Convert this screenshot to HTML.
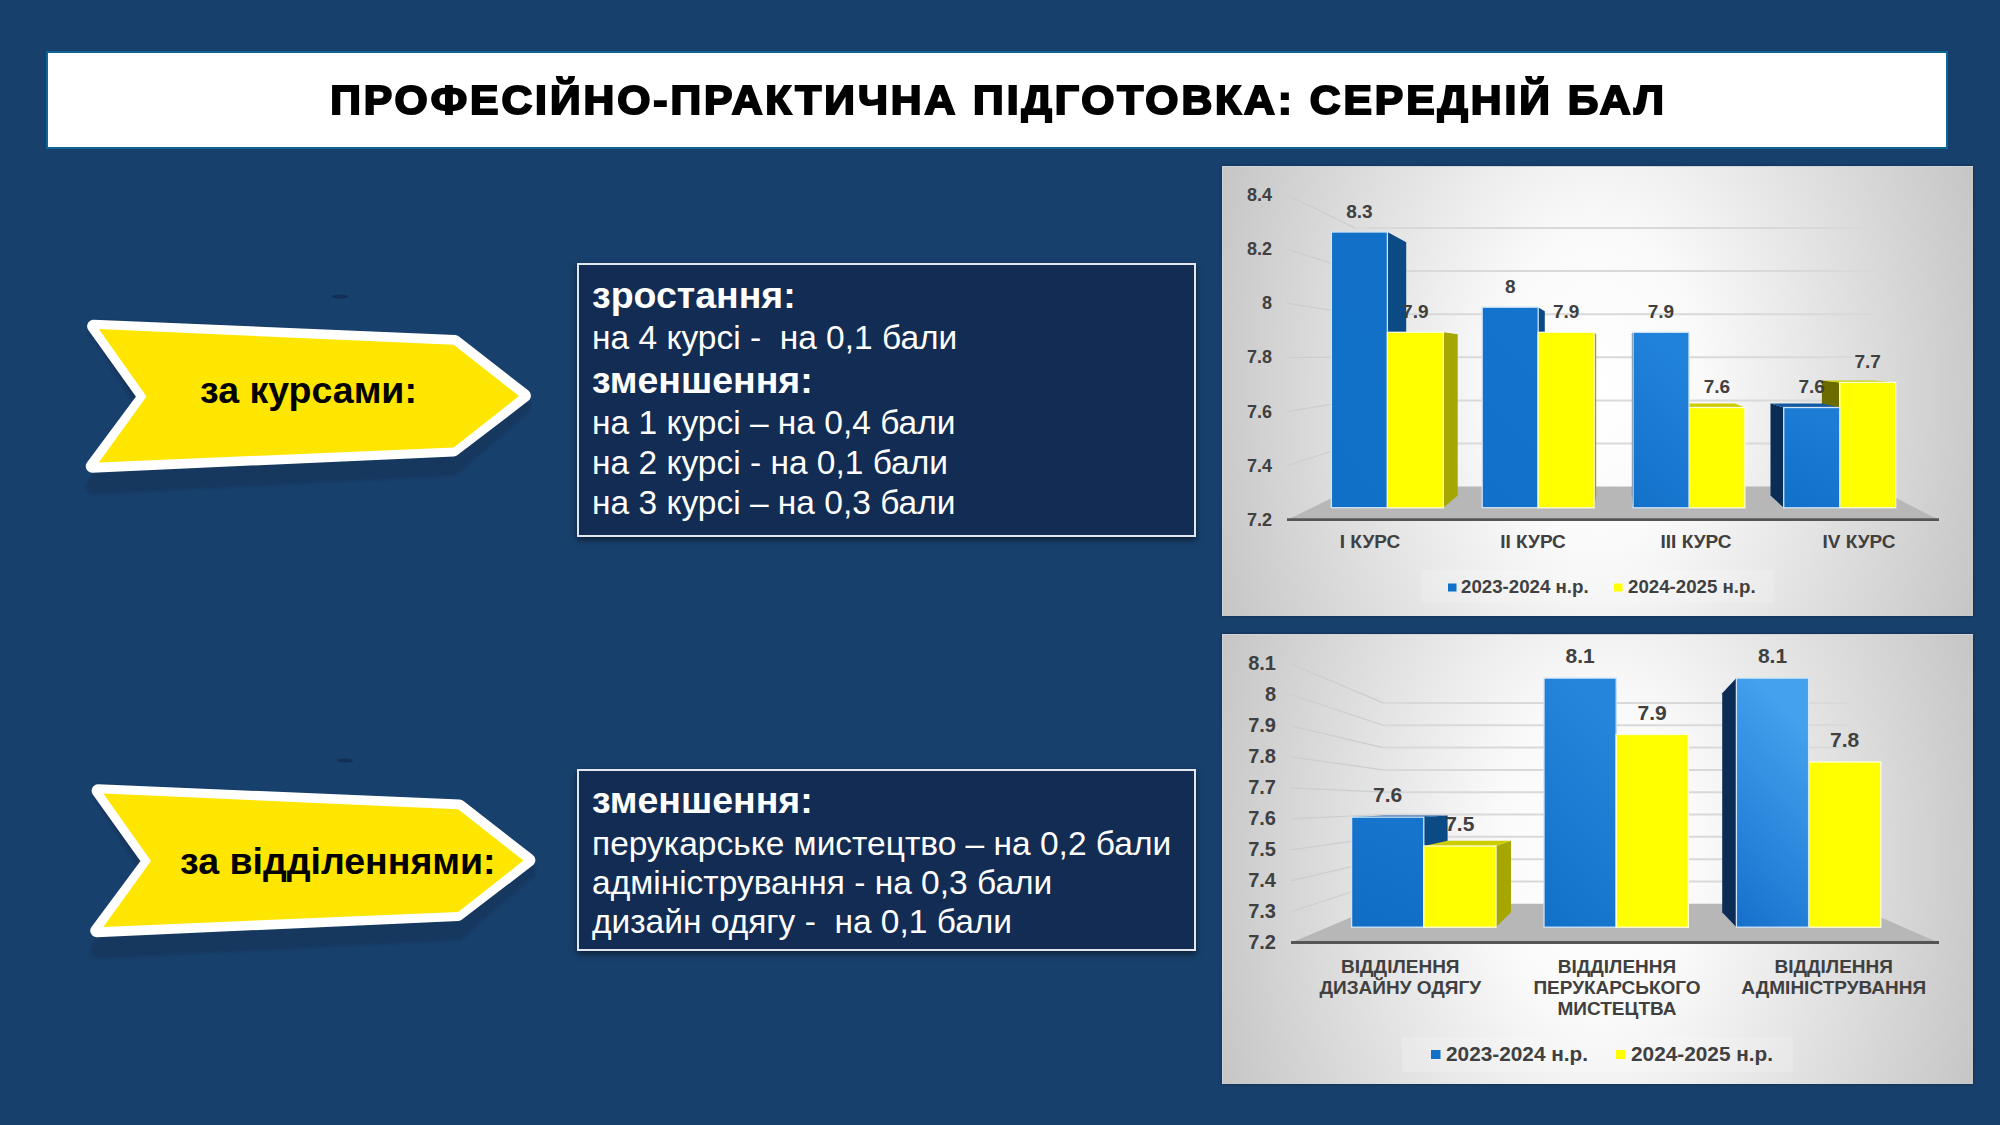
<!DOCTYPE html>
<html><head><meta charset="utf-8"><style>
html,body{margin:0;padding:0}
body{width:2000px;height:1125px;overflow:hidden;background:#18406c;position:relative;font-family:"Liberation Sans",sans-serif}
.title{position:absolute;left:46px;top:51px;width:1898px;height:94px;background:#fff;border:2px solid #0f6596;}
.title span{position:absolute;left:3px;right:0;top:23px;text-align:center;font-weight:bold;font-size:41px;color:#000;letter-spacing:2.82px;-webkit-text-stroke:2px #000;transform:scaleX(1.04);transform-origin:50% 50%;line-height:48px;white-space:nowrap}
.box{position:absolute;left:577px;width:615px;background:#132c53;border:2px solid #e2e7ef;box-shadow:0px 3px 6px rgba(0,0,0,0.5);color:#fff}
.box div{position:absolute;left:13px;white-space:pre;line-height:40px}
.b{font-weight:bold;font-size:37.5px}
.r{font-size:33.5px}
.chartbg{position:absolute;left:1222px;width:751px;background:radial-gradient(ellipse 55% 140% at 50% 50%,#ffffff 0%,#fafafa 25%,#c4c4c4 100%);box-shadow:inset 1px 1px 0 #cdd4de, 0 0 3px rgba(0,0,0,0.35)}
svg text.dl{font-weight:bold;fill:#404040;text-anchor:middle;dominant-baseline:central}
svg text.yl{font-weight:bold;fill:#404040;text-anchor:end;dominant-baseline:central}
svg text.cl{font-weight:bold;fill:#404040;text-anchor:middle;dominant-baseline:central}
svg text.lg{font-weight:bold;fill:#404040;dominant-baseline:central}
.arrowtxt{position:absolute;font-weight:bold;font-size:37.5px;color:#000;white-space:nowrap}
</style></head><body>
<div class="title"><span>ПРОФЕСІЙНО-ПРАКТИЧНА ПІДГОТОВКА: СЕРЕДНІЙ БАЛ</span></div>

<svg style="position:absolute;left:0;top:0" width="2000" height="1125" viewBox="0 0 2000 1125">
<defs>
<filter id="blur1" x="-10%" y="-10%" width="120%" height="140%"><feGaussianBlur stdDeviation="0.8"/></filter>
</defs>
<!-- arrow 1 -->
<polygon points="94.5,327.3 454.4,344.7 523.7,406.4 452.9,468.2 93.1,486.8 144.9,407.4" fill="#15375f" stroke="#15375f" stroke-width="15.0" stroke-linejoin="round" filter="url(#blur1)"/>
<polygon points="93.6,326.2 455.0,341.5 524.4,395.7 453.6,449.9 92.2,466.3 144.0,396.6" fill="#ffffff" stroke="#ffffff" stroke-width="13.0" stroke-linejoin="round"/>
<polygon points="98.8,329.0 453.7,344.8 519.0,396.1 453.7,447.5 98.8,462.4 146.5,396.5" fill="#ffe600"/>
<ellipse cx="340" cy="296.5" rx="8" ry="2" fill="#142f55"/>
<!-- arrow 2 -->
<polygon points="99.0,791.8 458.9,809.2 528.2,870.9 457.4,932.7 97.6,951.3 149.4,871.9" fill="#15375f" stroke="#15375f" stroke-width="15.0" stroke-linejoin="round" filter="url(#blur1)"/>
<polygon points="98.1,790.7 459.5,806.0 528.9,860.2 458.1,914.4 96.7,930.8 148.5,861.1" fill="#ffffff" stroke="#ffffff" stroke-width="13.0" stroke-linejoin="round"/>
<polygon points="103.3,793.5 458.2,809.3 523.5,860.6 458.2,912.0 103.3,926.9 151.0,861.0" fill="#ffe600"/>
<ellipse cx="345" cy="760.5" rx="8" ry="2" fill="#142f55"/>
</svg>
<div class="arrowtxt" style="left:200px;top:369px">за курсами:</div>
<div class="arrowtxt" style="left:180px;top:840px">за відділеннями:</div>

<div class="box" style="top:263px;height:270px">
<div class="b" style="top:10px">зростання:</div>
<div class="r" style="top:52.5px">на 4 курсі -  на 0,1 бали</div>
<div class="b" style="top:94.5px">зменшення:</div>
<div class="r" style="top:138px">на 1 курсі – на 0,4 бали</div>
<div class="r" style="top:178px">на 2 курсі - на 0,1 бали</div>
<div class="r" style="top:217.5px">на 3 курсі – на 0,3 бали</div>
</div>
<div class="box" style="top:768.5px;height:178.5px">
<div class="b" style="top:9.5px">зменшення:</div>
<div class="r" style="top:53px">перукарське мистецтво – на 0,2 бали</div>
<div class="r" style="top:92px">адміністрування - на 0,3 бали</div>
<div class="r" style="top:131px">дизайн одягу -  на 0,1 бали</div>
</div>

<div class="chartbg" style="top:166px;height:450px"></div>
<div class="chartbg" style="top:634px;height:450px"></div>
<svg style="position:absolute;left:0;top:0" width="2000" height="1125" viewBox="0 0 2000 1125">
<defs>
<linearGradient id="gb" x1="0" y1="0" x2="0" y2="1"><stop offset="0" stop-color="#1a78d0"/><stop offset="1" stop-color="#106cc4"/></linearGradient>
</defs>
<linearGradient id="g1_2" x1="0.3" y1="0" x2="0" y2="1"><stop offset="0" stop-color="#2182dc"/><stop offset="1" stop-color="#1371c9"/></linearGradient>
<linearGradient id="g1_1" x1="0.3" y1="0" x2="0" y2="1"><stop offset="0" stop-color="#1474cd"/><stop offset="1" stop-color="#1170c9"/></linearGradient>
<linearGradient id="g1_3" x1="0.3" y1="0" x2="0" y2="1"><stop offset="0" stop-color="#1c7cd6"/><stop offset="1" stop-color="#1170c8"/></linearGradient>
<linearGradient id="g1_0" x1="0.3" y1="0" x2="0" y2="1"><stop offset="0" stop-color="#1270c8"/><stop offset="1" stop-color="#1070c8"/></linearGradient>
<polygon points="1287.0,520.0 1939.0,520.0 1873.6,486.6 1355.3,486.6" fill="#b7b7b7" />
<line x1="1287.0" y1="465.8" x2="1355.3" y2="443.5" stroke="#cdcdcd" stroke-width="1.2"/>
<line x1="1355.3" y1="443.5" x2="1873.6" y2="443.5" stroke="#d9d9d9" stroke-width="2"/>
<line x1="1287.0" y1="411.6" x2="1355.3" y2="400.4" stroke="#cdcdcd" stroke-width="1.2"/>
<line x1="1355.3" y1="400.4" x2="1873.6" y2="400.4" stroke="#d9d9d9" stroke-width="2"/>
<line x1="1287.0" y1="357.4" x2="1355.3" y2="357.3" stroke="#cdcdcd" stroke-width="1.2"/>
<line x1="1355.3" y1="357.3" x2="1873.6" y2="357.3" stroke="#d9d9d9" stroke-width="2"/>
<line x1="1287.0" y1="303.2" x2="1355.3" y2="314.2" stroke="#cdcdcd" stroke-width="1.2"/>
<line x1="1355.3" y1="314.2" x2="1873.6" y2="314.2" stroke="#d9d9d9" stroke-width="2"/>
<line x1="1287.0" y1="249.0" x2="1355.3" y2="271.1" stroke="#cdcdcd" stroke-width="1.2"/>
<line x1="1355.3" y1="271.1" x2="1873.6" y2="271.1" stroke="#d9d9d9" stroke-width="2"/>
<line x1="1287.0" y1="194.8" x2="1355.3" y2="228.1" stroke="#cdcdcd" stroke-width="1.2"/>
<line x1="1355.3" y1="228.1" x2="1873.6" y2="228.1" stroke="#d9d9d9" stroke-width="2"/>
<line x1="1287.0" y1="519.7" x2="1939.0" y2="519.7" stroke="#555555" stroke-width="2.8"/>
<polygon points="1387.4,232.0 1406.2,242.2 1406.2,495.5 1387.4,507.8" fill="#0b4a85" />
<rect x="1331.4" y="232.0" width="56.0" height="275.7" fill="url(#g1_0)" stroke="#cfe4f7" stroke-width="1.3"/>
<polygon points="1839.7,382.4 1821.9,380.4 1821.9,495.5 1839.7,507.8" fill="#6b6b00" />
<polygon points="1839.7,382.4 1895.7,382.4 1873.3,380.4 1821.9,380.4" fill="#cccc00" />
<rect x="1839.7" y="382.4" width="56.0" height="125.3" fill="#ffff00" stroke="#ffffd8" stroke-width="1.3"/>
<polygon points="1443.3,332.3 1457.7,334.3 1457.7,495.5 1443.3,507.8" fill="#a6a600" />
<rect x="1387.4" y="332.3" width="56.0" height="175.5" fill="#ffff00" stroke="#ffffd8" stroke-width="1.3"/>
<polygon points="1783.7,407.5 1770.5,403.4 1770.5,495.5 1783.7,507.8" fill="#0a2c55" />
<polygon points="1783.7,407.5 1839.7,407.5 1821.9,403.4 1770.5,403.4" fill="#1258a0" />
<rect x="1783.7" y="407.5" width="56.0" height="100.3" fill="url(#g1_3)" stroke="#cfe4f7" stroke-width="1.3"/>
<polygon points="1538.1,307.2 1544.8,311.3 1544.8,495.5 1538.1,507.8" fill="#0b4a85" />
<rect x="1482.2" y="307.2" width="56.0" height="200.5" fill="url(#g1_1)" stroke="#cfe4f7" stroke-width="1.3"/>
<polygon points="1688.9,407.5 1683.3,403.4 1683.3,495.5 1688.9,507.8" fill="#6b6b00" />
<polygon points="1688.9,407.5 1744.9,407.5 1734.8,403.4 1683.3,403.4" fill="#cccc00" />
<rect x="1688.9" y="407.5" width="56.0" height="100.3" fill="#ffff00" stroke="#ffffd8" stroke-width="1.3"/>
<polygon points="1594.1,332.3 1596.2,334.3 1596.2,495.5 1594.1,507.8" fill="#a6a600" />
<rect x="1538.1" y="332.3" width="56.0" height="175.5" fill="#ffff00" stroke="#ffffd8" stroke-width="1.3"/>
<polygon points="1633.0,332.3 1631.9,334.3 1631.9,495.5 1633.0,507.8" fill="#0a2c55" />
<rect x="1633.0" y="332.3" width="56.0" height="175.5" fill="url(#g1_2)" stroke="#cfe4f7" stroke-width="1.3"/>
<text x="1359.4" y="211.0" class="dl" style="font-size:19px">8.3</text>
<text x="1867.7" y="361.4" class="dl" style="font-size:19px">7.7</text>
<text x="1415.3" y="311.3" class="dl" style="font-size:19px">7.9</text>
<text x="1811.7" y="386.5" class="dl" style="font-size:19px">7.6</text>
<text x="1510.2" y="286.2" class="dl" style="font-size:19px">8</text>
<text x="1716.9" y="386.5" class="dl" style="font-size:19px">7.6</text>
<text x="1566.1" y="311.3" class="dl" style="font-size:19px">7.9</text>
<text x="1660.9" y="311.3" class="dl" style="font-size:19px">7.9</text>
<text x="1272" y="520.0" class="yl" style="font-size:18px">7.2</text>
<text x="1272" y="465.8" class="yl" style="font-size:18px">7.4</text>
<text x="1272" y="411.6" class="yl" style="font-size:18px">7.6</text>
<text x="1272" y="357.4" class="yl" style="font-size:18px">7.8</text>
<text x="1272" y="303.2" class="yl" style="font-size:18px">8</text>
<text x="1272" y="249.0" class="yl" style="font-size:18px">8.2</text>
<text x="1272" y="194.8" class="yl" style="font-size:18px">8.4</text>
<text x="1370.0" y="541.0" class="cl" style="font-size:19px">I КУРС</text>
<text x="1533.0" y="541.0" class="cl" style="font-size:19px">II КУРС</text>
<text x="1696.0" y="541.0" class="cl" style="font-size:19px">III КУРС</text>
<text x="1859.0" y="541.0" class="cl" style="font-size:19px">IV КУРС</text>
<rect x="1421" y="570" width="353" height="33" fill="#ffffff" fill-opacity="0.18"/>
<rect x="1448" y="583.5" width="8.5" height="8" fill="#1170c8"/>
<text x="1461" y="586.5" class="lg" style="font-size:18.7px">2023-2024 н.р.</text>
<rect x="1614" y="583.5" width="8.5" height="8" fill="#ffff00"/>
<text x="1628" y="586.5" class="lg" style="font-size:18.7px">2024-2025 н.р.</text>
<linearGradient id="g2_1" x1="0.3" y1="0" x2="0" y2="1"><stop offset="0" stop-color="#2585da"/><stop offset="1" stop-color="#1170c8"/></linearGradient>
<linearGradient id="g2_2" x1="0.3" y1="0" x2="0" y2="1"><stop offset="0" stop-color="#43a1ee"/><stop offset="1" stop-color="#1670cc"/></linearGradient>
<linearGradient id="g2_0" x1="0.3" y1="0" x2="0" y2="1"><stop offset="0" stop-color="#1674cd"/><stop offset="1" stop-color="#106dc5"/></linearGradient>
<polygon points="1291.0,942.8 1939.0,942.8 1849.7,903.8 1383.1,903.8" fill="#b7b7b7" />
<line x1="1291.0" y1="911.8" x2="1383.1" y2="881.5" stroke="#cdcdcd" stroke-width="1.2"/>
<line x1="1383.1" y1="881.5" x2="1849.7" y2="881.5" stroke="#d9d9d9" stroke-width="2"/>
<line x1="1291.0" y1="880.8" x2="1383.1" y2="859.2" stroke="#cdcdcd" stroke-width="1.2"/>
<line x1="1383.1" y1="859.2" x2="1849.7" y2="859.2" stroke="#d9d9d9" stroke-width="2"/>
<line x1="1291.0" y1="849.8" x2="1383.1" y2="836.8" stroke="#cdcdcd" stroke-width="1.2"/>
<line x1="1383.1" y1="836.8" x2="1849.7" y2="836.8" stroke="#d9d9d9" stroke-width="2"/>
<line x1="1291.0" y1="818.8" x2="1383.1" y2="814.5" stroke="#cdcdcd" stroke-width="1.2"/>
<line x1="1383.1" y1="814.5" x2="1849.7" y2="814.5" stroke="#d9d9d9" stroke-width="2"/>
<line x1="1291.0" y1="787.8" x2="1383.1" y2="792.2" stroke="#cdcdcd" stroke-width="1.2"/>
<line x1="1383.1" y1="792.2" x2="1849.7" y2="792.2" stroke="#d9d9d9" stroke-width="2"/>
<line x1="1291.0" y1="756.8" x2="1383.1" y2="769.9" stroke="#cdcdcd" stroke-width="1.2"/>
<line x1="1383.1" y1="769.9" x2="1849.7" y2="769.9" stroke="#d9d9d9" stroke-width="2"/>
<line x1="1291.0" y1="725.8" x2="1383.1" y2="747.6" stroke="#cdcdcd" stroke-width="1.2"/>
<line x1="1383.1" y1="747.6" x2="1849.7" y2="747.6" stroke="#d9d9d9" stroke-width="2"/>
<line x1="1291.0" y1="694.8" x2="1383.1" y2="725.2" stroke="#cdcdcd" stroke-width="1.2"/>
<line x1="1383.1" y1="725.2" x2="1849.7" y2="725.2" stroke="#d9d9d9" stroke-width="2"/>
<line x1="1291.0" y1="663.8" x2="1383.1" y2="702.9" stroke="#cdcdcd" stroke-width="1.2"/>
<line x1="1383.1" y1="702.9" x2="1849.7" y2="702.9" stroke="#d9d9d9" stroke-width="2"/>
<line x1="1291.0" y1="942.5" x2="1939.0" y2="942.5" stroke="#555555" stroke-width="2.8"/>
<polygon points="1423.8,817.1 1447.6,815.4 1447.6,912.2 1423.8,927.2" fill="#0b4a85" />
<polygon points="1351.6,817.1 1423.8,817.1 1447.6,815.4 1384.2,815.4" fill="#1258a0" />
<rect x="1351.6" y="817.1" width="72.2" height="110.1" fill="url(#g2_0)" stroke="#cfe4f7" stroke-width="1.3"/>
<polygon points="1808.6,762.0 1785.6,767.1 1785.6,912.2 1808.6,927.2" fill="#6b6b00" />
<rect x="1808.6" y="762.0" width="72.2" height="165.2" fill="#ffff00" stroke="#ffffd8" stroke-width="1.3"/>
<polygon points="1495.9,846.0 1511.0,840.8 1511.0,912.2 1495.9,927.2" fill="#a6a600" />
<polygon points="1423.8,846.0 1495.9,846.0 1511.0,840.8 1447.6,840.8" fill="#cccc00" />
<rect x="1423.8" y="846.0" width="72.2" height="81.2" fill="#ffff00" stroke="#ffffd8" stroke-width="1.3"/>
<polygon points="1736.4,678.1 1722.2,693.3 1722.2,912.2 1736.4,927.2" fill="#0a2c55" />
<rect x="1736.4" y="678.1" width="72.2" height="249.1" fill="url(#g2_2)" stroke="#cfe4f7" stroke-width="1.3"/>
<polygon points="1616.2,678.1 1616.6,693.3 1616.6,912.2 1616.2,927.2" fill="#0b4a85" />
<rect x="1544.0" y="678.1" width="72.2" height="249.1" fill="url(#g2_1)" stroke="#cfe4f7" stroke-width="1.3"/>
<rect x="1616.2" y="734.5" width="72.2" height="192.7" fill="#ffff00" stroke="#ffffd8" stroke-width="1.3"/>
<text x="1387.7" y="794.6" class="dl" style="font-size:21px">7.6</text>
<text x="1844.6" y="739.5" class="dl" style="font-size:21px">7.8</text>
<text x="1459.8" y="823.5" class="dl" style="font-size:21px">7.5</text>
<text x="1772.5" y="655.6" class="dl" style="font-size:21px">8.1</text>
<text x="1580.1" y="655.6" class="dl" style="font-size:21px">8.1</text>
<text x="1652.2" y="712.0" class="dl" style="font-size:21px">7.9</text>
<text x="1276" y="942.0" class="yl" style="font-size:20px">7.2</text>
<text x="1276" y="911.0" class="yl" style="font-size:20px">7.3</text>
<text x="1276" y="880.0" class="yl" style="font-size:20px">7.4</text>
<text x="1276" y="849.0" class="yl" style="font-size:20px">7.5</text>
<text x="1276" y="818.0" class="yl" style="font-size:20px">7.6</text>
<text x="1276" y="787.0" class="yl" style="font-size:20px">7.7</text>
<text x="1276" y="756.0" class="yl" style="font-size:20px">7.8</text>
<text x="1276" y="725.0" class="yl" style="font-size:20px">7.9</text>
<text x="1276" y="694.0" class="yl" style="font-size:20px">8</text>
<text x="1276" y="663.0" class="yl" style="font-size:20px">8.1</text>
<text x="1400.3" y="966.0" class="cl" style="font-size:19px">ВІДДІЛЕННЯ</text>
<text x="1400.3" y="987.0" class="cl" style="font-size:19px">ДИЗАЙНУ ОДЯГУ</text>
<text x="1617.0" y="966.0" class="cl" style="font-size:19px">ВІДДІЛЕННЯ</text>
<text x="1617.0" y="987.0" class="cl" style="font-size:19px">ПЕРУКАРСЬКОГО</text>
<text x="1617.0" y="1008.0" class="cl" style="font-size:19px">МИСТЕЦТВА</text>
<text x="1833.7" y="966.0" class="cl" style="font-size:19px">ВІДДІЛЕННЯ</text>
<text x="1833.7" y="987.0" class="cl" style="font-size:19px">АДМІНІСТРУВАННЯ</text>
<rect x="1402" y="1037" width="391" height="35" fill="#ffffff" fill-opacity="0.18"/>
<rect x="1431" y="1050" width="9.5" height="9" fill="#1170c8"/>
<text x="1446" y="1053.7" class="lg" style="font-size:20.8px">2023-2024 н.р.</text>
<rect x="1616" y="1050" width="9.5" height="9" fill="#ffff00"/>
<text x="1631" y="1053.7" class="lg" style="font-size:20.8px">2024-2025 н.р.</text>
</svg>
</body></html>
